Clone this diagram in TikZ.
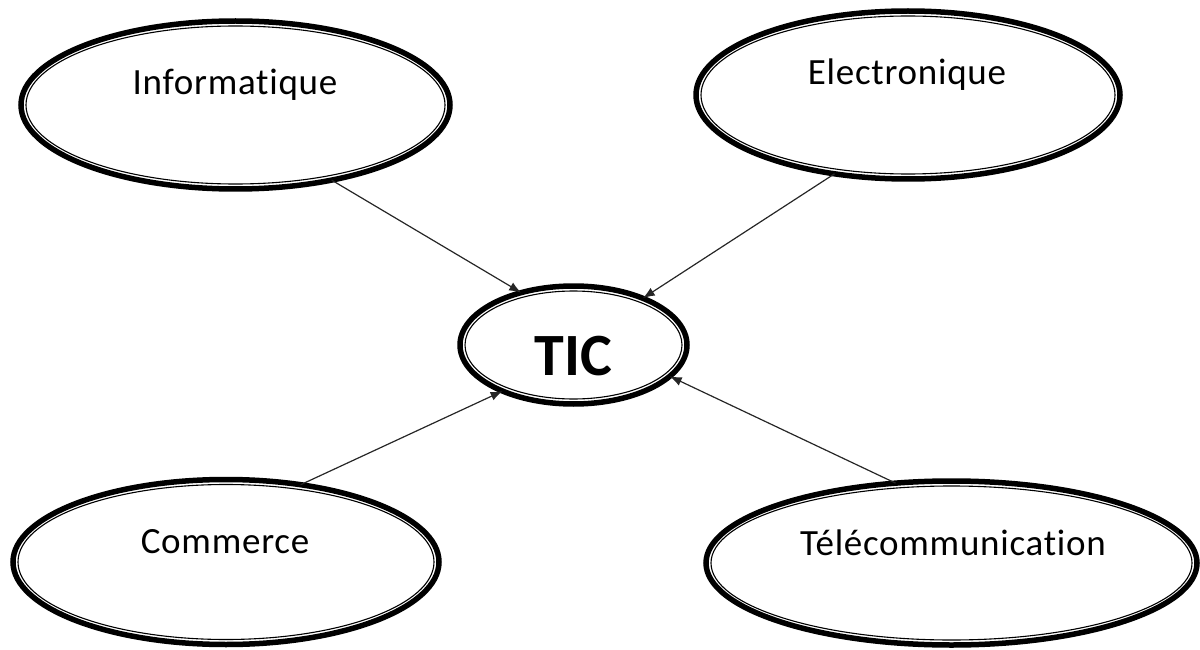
\documentclass[tikz,border=0pt]{standalone}
\usepackage{fontspec}
\setmainfont{Carlito}[Ligatures=NoCommon]
\newfontfamily\labelfont{Carlito}[Ligatures=NoCommon, LetterSpace=2]
\usetikzlibrary{arrows.meta,shapes.geometric}

\tikzset{
  bubble/.style={ellipse, draw=black, line width=5.5pt, inner sep=0pt, outer sep=0pt, fill=white},
  innerring/.style={draw=black, line width=1.1pt},
  lbl/.style={font=\labelfont\fontsize{37}{40}\selectfont, anchor=base, inner sep=0pt},
  hub/.style={font=\fontsize{60}{66}\selectfont\bfseries, anchor=base, inner sep=0pt},
  feed/.style={draw=black!85, line width=1.2pt, -{Latex[length=12pt,width=9pt]}}
}

% bubble with a thin inner ring: name, x, y, x radius, y radius
\newcommand\ringbubble[5]{%
  \node[bubble, minimum width=#4pt*2, minimum height=#5pt*2] (#1) at (#2,#3) {};
  \draw[innerring] (#1.center) ellipse [x radius=#4pt-5pt, y radius=#5pt-5pt];
}

\begin{document}
\begin{tikzpicture}[x=1pt,y=-1pt]
  \useasboundingbox (0,0) rectangle (1200,650);

  \ringbubble{inf}{235.5}{105}{214.5}{84}
  \ringbubble{ele}{908}{95}{212}{84}
  \ringbubble{com}{226}{562}{213}{82.5}
  \ringbubble{tel}{951.5}{563}{245.5}{82}
  \ringbubble{tic}{573.5}{345}{113.5}{59}

  \node[lbl] (inf-t) at (235,95) {Informatique};
  \node[lbl] (ele-t) at (907,85) {Electronique};
  \node[lbl] (com-t) at (225,553) {Commerce};
  \node[lbl] (tel-t) at (953,555) {Télécommunication};
  \node[hub] (tic-t) at (573.5,375) {TIC};

  \draw[feed] (inf.-38.3) -- (tic.135.8);
  \draw[feed] (ele.227.5) -- (tic.34.6);
  \draw[feed] (com.46.9) -- (tic.213.7);
  \draw[feed] (tel.125.2) -- (tic.-18.5);
\end{tikzpicture}
\end{document}
